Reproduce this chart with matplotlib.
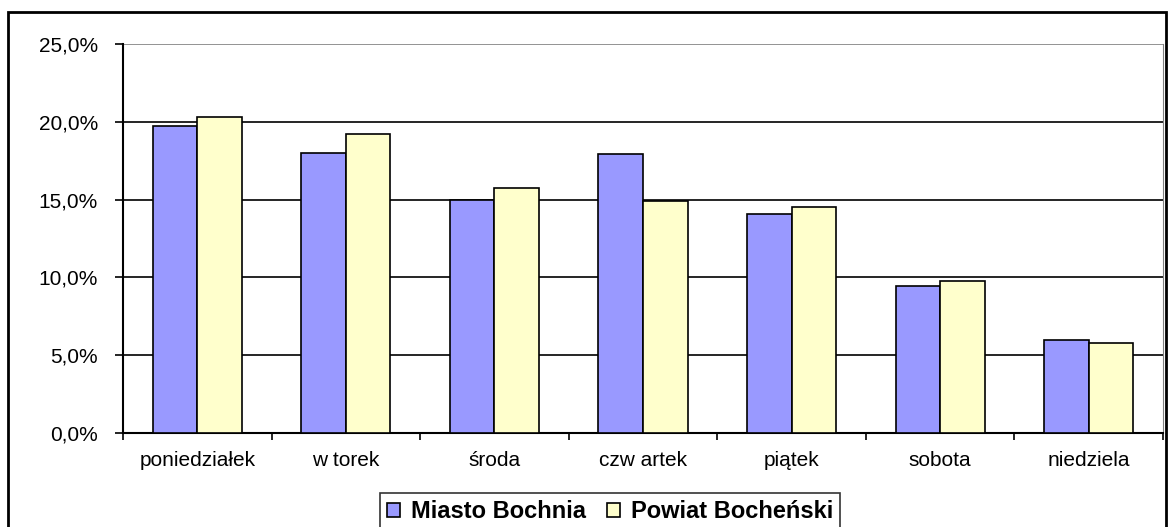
import numpy as np
import matplotlib
matplotlib.use("Agg")
import matplotlib.pyplot as plt
from matplotlib.patches import Rectangle

# ================= DATA =================
dni = ["poniedziałek", "w torek", "środa", "czw artek", "piątek", "sobota", "niedziela"]
miasto = [19.7, 18.0, 15.0, 17.9, 14.1, 9.45, 6.0]
powiat = [20.3, 19.2, 15.75, 14.9, 14.5, 9.8, 5.8]
series_names = ["Miasto Bochnia", "Powiat Bocheński"]
yticks = [0, 5, 10, 15, 20, 25]

plt.rcParams['font.family'] = ['Liberation Sans', 'DejaVu Sans']

W, H = 1169, 527
fig = plt.figure(figsize=(W / 100, H / 100), dpi=100)

# plot area in pixels: left 123, right 1163, top 44, bottom 433
ax = fig.add_axes([123 / W, 1 - 433 / H, (1163 - 123) / W, (433 - 44) / H])

x = np.arange(len(dni))
bw = 0.30
ax.bar(x - bw / 2, miasto, bw, color="#9999ff", edgecolor="black", linewidth=1.2,
       label=series_names[0], zorder=3)
ax.bar(x + bw / 2, powiat, bw, color="#ffffcc", edgecolor="black", linewidth=1.2,
       label=series_names[1], zorder=3)

ax.set_xlim(-0.5, len(dni) - 0.5)
ax.set_ylim(0, 25)
ax.set_yticks(yticks)
ax.set_yticklabels([f"{v:.1f}%".replace(".", ",") for v in yticks], fontsize=15)

# gridlines
for v in yticks[1:-1]:
    ax.axhline(v, color="black", linewidth=1.2, zorder=1)
ax.axhline(25, color="#808080", linewidth=1.2, zorder=1)

ax.set_xticks(x)
ax.set_xticklabels(dni, fontsize=15)
ax.tick_params(axis="x", length=0, pad=13)
# category separators
ax.set_xticks(np.arange(-0.5, len(dni) + 0.5, 1), minor=True)
ax.tick_params(axis="x", which="minor", length=5, width=1.2, direction="out")
ax.tick_params(axis="y", length=6, width=1.2, direction="out", pad=12)

ax.spines["top"].set_visible(False)
ax.spines["right"].set_color("#808080")
ax.spines["left"].set_linewidth(1.5)
ax.spines["bottom"].set_linewidth(1.5)

# legend
leg = fig.legend(loc="center", bbox_to_anchor=(610 / W, 1 - 512 / H), ncol=2,
                 frameon=True, fancybox=False, edgecolor="black",
                 prop={"weight": "bold", "size": 17}, handlelength=0.55,
                 handleheight=0.55, columnspacing=0.9, handletextpad=0.45,
                 borderpad=0.3, borderaxespad=0)
leg.get_frame().set_linewidth(1.2)

# outer chart frame
fig.patches.append(Rectangle((8 / W, -0.05), (1166 - 8) / W, 1.05 - 12 / H,
                             transform=fig.transFigure, fill=False,
                             edgecolor="black", linewidth=2))

fig.savefig("out.png", dpi=100)
